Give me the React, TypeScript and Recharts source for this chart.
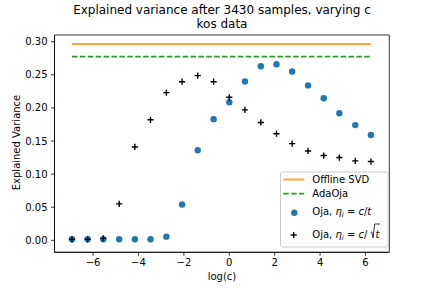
import React from "react"
import { ComposedChart, Line, Scatter, XAxis, YAxis, ReferenceArea } from "recharts"

// log(c) for c = 2^-10 ... 2^9
const logC = [-6.93, -6.24, -5.55, -4.85, -4.16, -3.47, -2.77, -2.08, -1.39, -0.69, 0, 0.69, 1.39, 2.08, 2.77, 3.47, 4.16, 4.85, 5.55, 6.24]
const ojaOverT = [0.0015, 0.0015, 0.0015, 0.0015, 0.0015, 0.0015, 0.0055, 0.054, 0.136, 0.183, 0.2085, 0.24, 0.263, 0.266, 0.255, 0.234, 0.2145, 0.192, 0.174, 0.159]
const ojaOverSqrtT = [0.0015, 0.0015, 0.003, 0.055, 0.141, 0.182, 0.223, 0.2396, 0.2487, 0.2396, 0.216, 0.197, 0.178, 0.161, 0.146, 0.135, 0.128, 0.125, 0.12, 0.119]
const offlineSvd = 0.2965
const adaOja = 0.2773

const xTicks = [-6, -4, -2, 0, 2, 4, 6]
const yTicks = [0, 0.05, 0.1, 0.15, 0.2, 0.25, 0.3]
const xDomain: [number, number] = [-7.7, 7.05]
const yDomain: [number, number] = [-0.0181, 0.3101]

const rows = logC.map((x, i) => ({
  x,
  ojaT: ojaOverT[i],
  ojaS: ojaOverSqrtT[i],
  svd: offlineSvd,
  ada: adaOja,
}))

const font = "'DejaVu Sans', sans-serif"
const tickStyle = { fontSize: 10, fontFamily: font, fill: "#000" }
const minus = (v: number) => String(v).replace("-", "\u2212")

function Dot(p: any) {
  return <circle cx={p.cx} cy={p.cy} r={3.2} fill="#1f77b4" />
}

function Plus(p: any) {
  const s = 3.1
  return (
    <g stroke="#000" strokeWidth={1.4}>
      <line x1={p.cx - s} y1={p.cy} x2={p.cx + s} y2={p.cy} />
      <line x1={p.cx} y1={p.cy - s} x2={p.cx} y2={p.cy + s} />
    </g>
  )
}

function Overlay() {
  return (
    <svg width={432} height={288} style={{ position: "absolute", left: 0, top: 0, pointerEvents: "none" }} fontFamily={font}>
      <text x={222} y={13.5} fontSize={12} textAnchor="middle">Explained variance after 3430 samples, varying c</text>
      <text x={222} y={28} fontSize={12} textAnchor="middle">kos data</text>
      <text x={0} y={0} fontSize={10} textAnchor="middle" transform="translate(20 142.5) rotate(-90)">Explained Variance</text>
      <text x={222} y={280} fontSize={10} textAnchor="middle">log(c)</text>

      <rect x={280.5} y={172} width={107.5} height={75} rx={2} fill="#fff" fillOpacity={0.8} stroke="#cccccc" strokeWidth={1} />
      <line x1={283.3} y1={179.5} x2={304.3} y2={179.5} stroke="#ffa33a" strokeWidth={2} />
      <text x={312.3} y={183} fontSize={10}>Offline SVD</text>
      <line x1={283.3} y1={193.7} x2={304.3} y2={193.7} stroke="#2ca02c" strokeWidth={1.8} strokeDasharray="5.5 2.4" />
      <text x={312.3} y={197.3} fontSize={10}>AdaOja</text>
      <circle cx={294.3} cy={212.7} r={3.2} fill="#1f77b4" />
      <text x={312.3} y={215} fontSize={10}>
        Oja, <tspan fontStyle="italic">η</tspan>
        <tspan fontStyle="italic" fontSize={7} dy={2}>i</tspan>
        <tspan dy={-2}> = </tspan>
        <tspan fontStyle="italic">c</tspan>/<tspan fontStyle="italic">t</tspan>
      </text>
      <g stroke="#000" strokeWidth={1.4}>
        <line x1={290.6} y1={235} x2={296.8} y2={235} />
        <line x1={293.7} y1={231.9} x2={293.7} y2={238.1} />
      </g>
      <text x={312.3} y={237.5} fontSize={10}>
        Oja, <tspan fontStyle="italic">η</tspan>
        <tspan fontStyle="italic" fontSize={7} dy={2}>i</tspan>
        <tspan dy={-2}> = </tspan>
        <tspan fontStyle="italic">c</tspan>/
      </text>
      <path d="M370.6 232.6 L371.7 231.9 L373.1 237.9 L374.7 224 L380 224" fill="none" stroke="#000" strokeWidth={0.8} />
      <text x={375.4} y={237.5} fontSize={10} fontStyle="italic">t</text>
    </svg>
  )
}

export default function App() {
  return (
    <div style={{ position: "absolute", left: 0, top: 0, width: 432, height: 288, background: "#fff" }}>
      <ComposedChart width={432} height={288} data={rows} margin={{ top: 35, right: 42.7, bottom: 0, left: 0 }}>
        <XAxis
          dataKey="x"
          type="number"
          domain={xDomain}
          ticks={xTicks}
          allowDataOverflow
          height={35.7}
          tick={tickStyle}
          tickFormatter={minus}
          tickSize={3.5}
          tickMargin={3}
          stroke="#000"
          strokeWidth={0.8}
        />
        <YAxis
          type="number"
          domain={yDomain}
          ticks={yTicks}
          allowDataOverflow
          width={54.5}
          tick={tickStyle}
          tickFormatter={(v: number) => v.toFixed(2)}
          tickSize={3.5}
          tickMargin={3.5}
          stroke="#000"
          strokeWidth={0.8}
        />
        <ReferenceArea x1={xDomain[0]} x2={xDomain[1]} y1={yDomain[0]} y2={yDomain[1]} fill="none" stroke="#000" strokeWidth={0.8} />
        <Line dataKey="svd" stroke="#ffa33a" strokeWidth={2} dot={false} isAnimationActive={false} />
        <Line dataKey="ada" stroke="#2ca02c" strokeWidth={1.8} strokeDasharray="5.5 2.4" dot={false} isAnimationActive={false} />
        <Scatter data={rows} dataKey="ojaT" shape={Dot} isAnimationActive={false} />
        <Scatter data={rows} dataKey="ojaS" shape={Plus} isAnimationActive={false} />
      </ComposedChart>
      <Overlay />
    </div>
  )
}
